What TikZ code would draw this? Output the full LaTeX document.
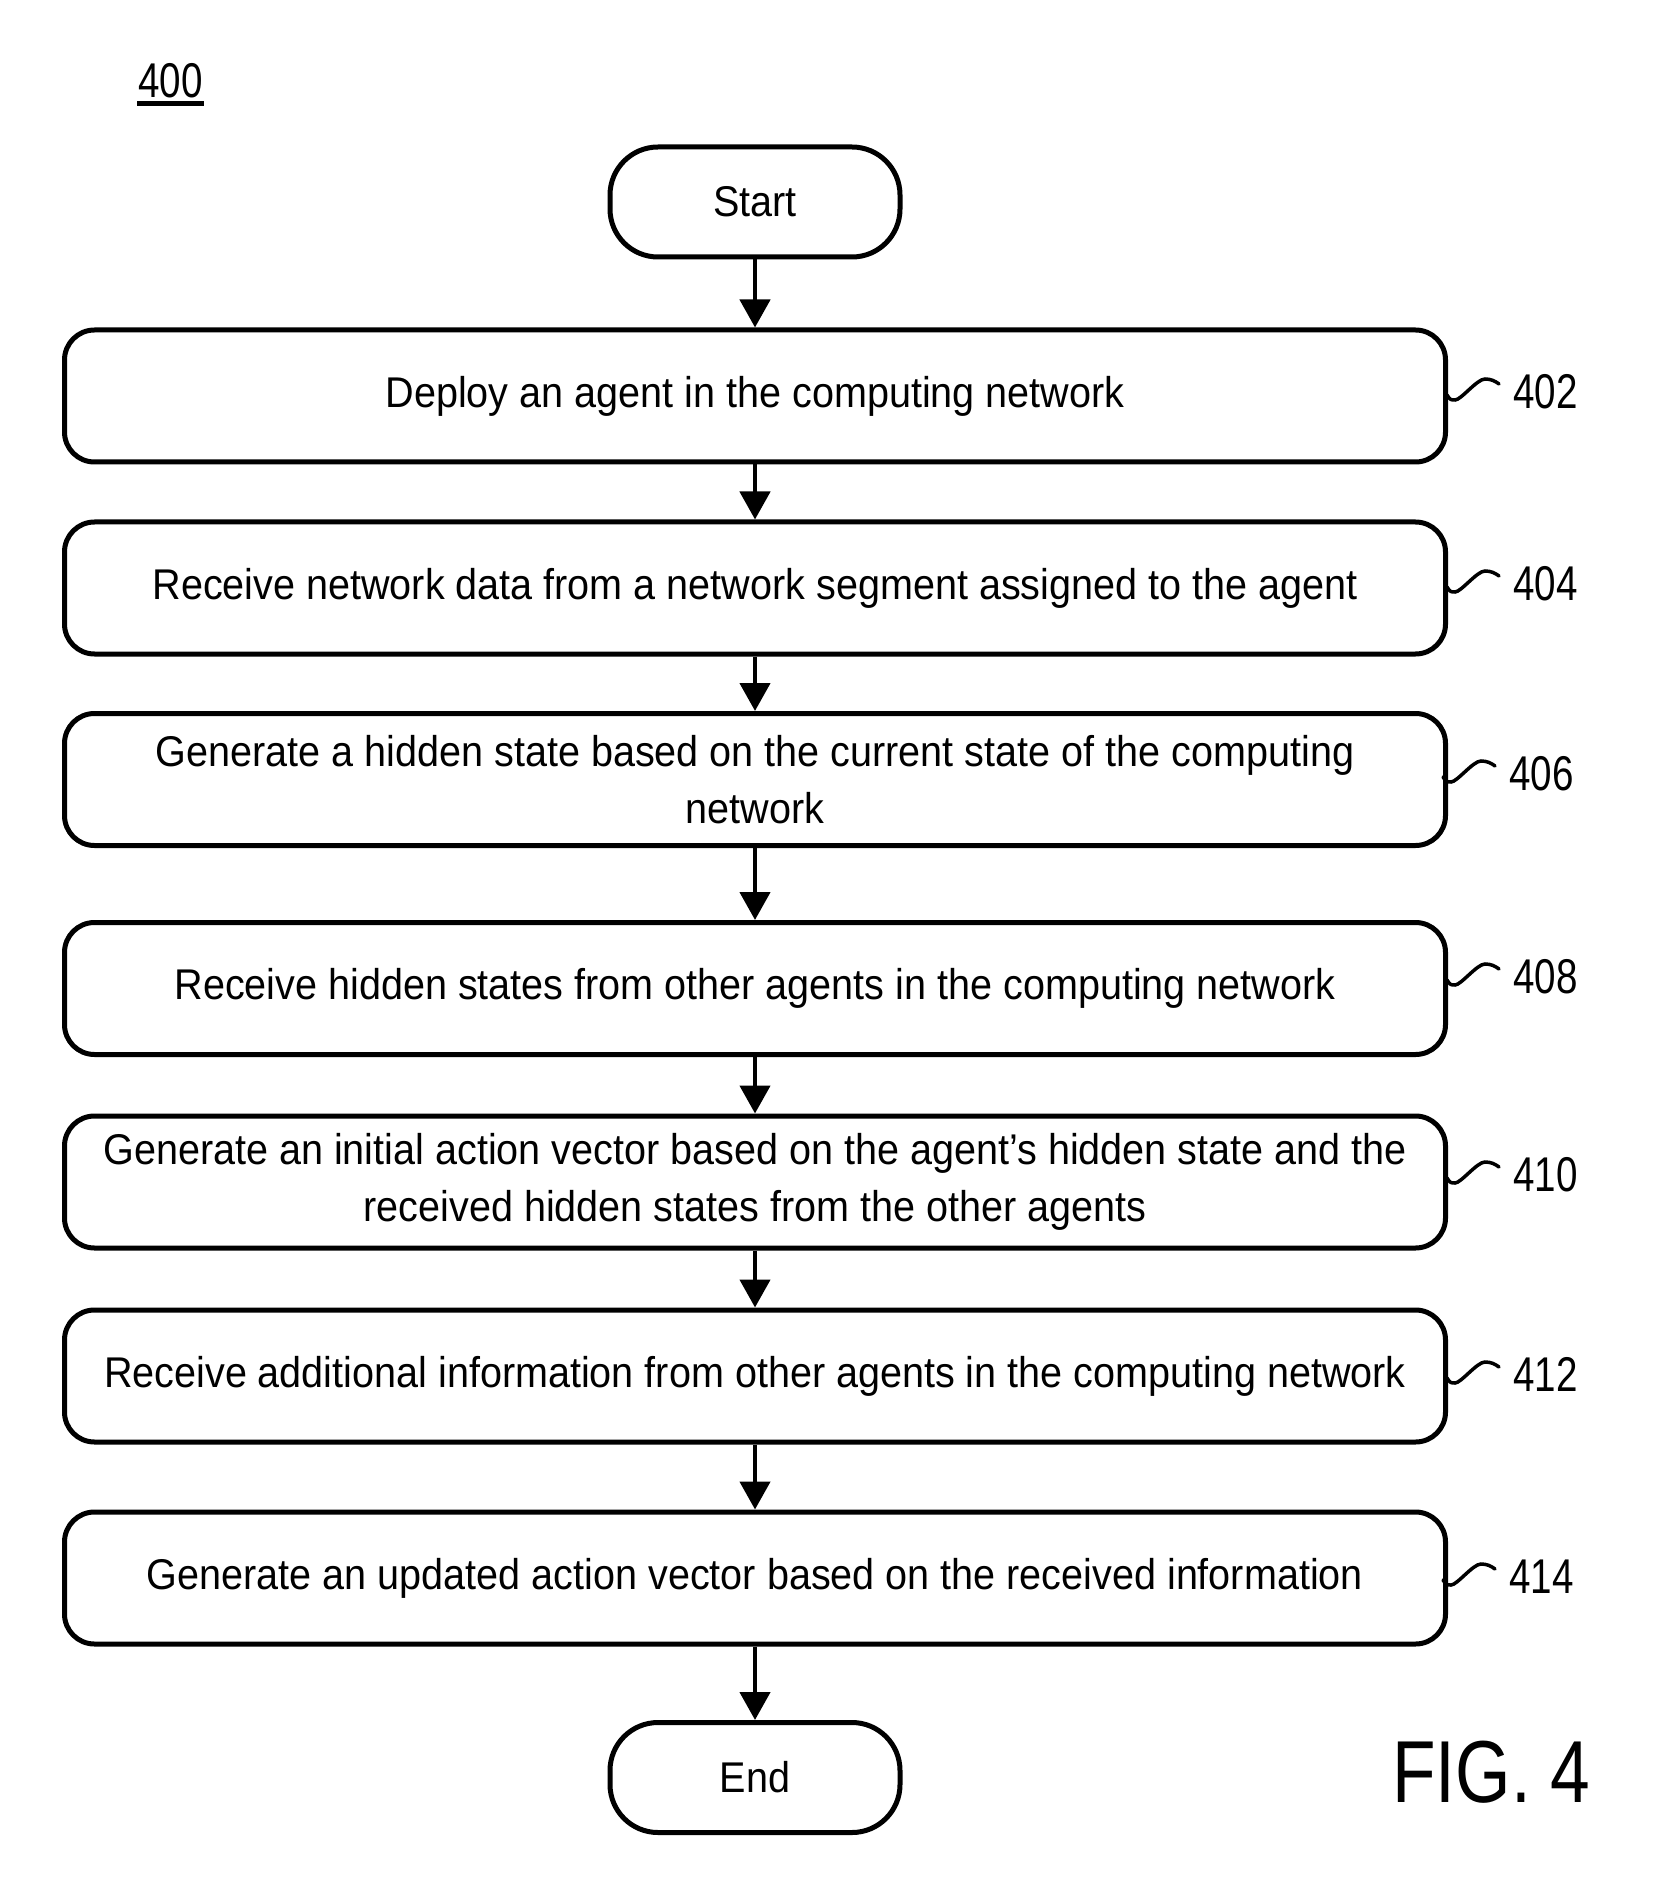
\documentclass[tikz,border=0pt]{standalone}
\usepackage{fontspec}
\setmainfont{Liberation Sans}[FakeStretch=0.92]
\newfontfamily\reffont{Liberation Sans}[FakeStretch=0.79]
\newfontfamily\figfont{Liberation Sans}[FakeStretch=0.81]
\usetikzlibrary{arrows.meta,calc}

\begin{document}
\begin{tikzpicture}[x=0.5pt,y=-0.5pt,
  stepbox/.style={draw, line width=2.5pt, rounded corners=15pt,
    minimum width=690.5pt, minimum height=66pt, inner sep=0pt,
    align=center, font=\fontsize{21.5}{28.5}\selectfont},
  terminal/.style={draw, line width=2.5pt, rounded corners=24pt,
    minimum width=145pt, minimum height=55pt, inner sep=0pt,
    font=\fontsize{21.5}{28.5}\selectfont},
  flow/.style={line width=2.25pt, -{Triangle[length=14pt,width=15pt]}},
  reflabel/.style={inner sep=0pt, anchor=base west,
    font=\reffont\fontsize{24.4}{28}\selectfont},
  curl/.style={line width=1.75pt, line cap=round},
]
\useasboundingbox (0,0) rectangle (1670,1898);

% figure number
\node[reflabel] (fignum) at (138,98) {400};
\draw[line width=2.5pt] ($(fignum.base west)+(-1,5.5)$) -- ($(fignum.base east)+(1,5.5)$);

% flow steps
\node[terminal] (start) at (755,202) {Start};
\node[stepbox] (b402) at (755,396) {Deploy an agent in the computing network};
\node[stepbox] (b404) at (755,588) {Receive network data from a network segment assigned to the agent};
\node[stepbox] (b406) at (755,779.5) {Generate a hidden state based on the current state of the computing\\network};
\node[stepbox] (b408) at (755,988.5) {Receive hidden states from other agents in the computing network};
\node[stepbox] (b410) at (755,1182) {Generate an initial action vector based on the agent’s hidden state and the\\received hidden states from the other agents};
\node[stepbox] (b412) at (755,1376) {Receive additional information from other agents in the computing network};
\node[stepbox] (b414) at (755,1578) {Generate an updated action vector based on the received information};
\node[terminal] (end) at (755,1777.5) {End};

% connectors
\draw[flow] (start.south) -- (b402.north);
\draw[flow] (b402.south) -- (b404.north);
\draw[flow] (b404.south) -- (b406.north);
\draw[flow] (b406.south) -- (b408.north);
\draw[flow] (b408.south) -- (b410.north);
\draw[flow] (b410.south) -- (b412.north);
\draw[flow] (b412.south) -- (b414.north);
\draw[flow] (b414.south) -- (end.north);

% reference numerals with their leader curls
\foreach \n/\ly/\lx/\dx in {402/391/1515/0, 404/583/1515/0, 406/773/1511/-4,
    408/976/1515/0, 410/1174/1515/0, 412/1374/1515/0, 414/1576/1511/-4}{
  \node[reflabel] (l\n) at (\lx-2, \ly+17.5) {\n};
  \draw[curl] ($(b\n.east |- l\n.base)+(\dx-1,-13.5)$)
    .. controls +(3,5) and +(-4,0) .. ++(8,5)
    .. controls +(6,0) and +(-8,0) .. ++(30,-21)
    .. controls +(6,0) and +(-4,-3) .. ++(14,5);
}

\node[inner sep=0pt, anchor=base west, font=\figfont\fontsize{44}{50}\selectfont] (fig) at (1392,1802) {FIG. 4};
\end{tikzpicture}
\end{document}
